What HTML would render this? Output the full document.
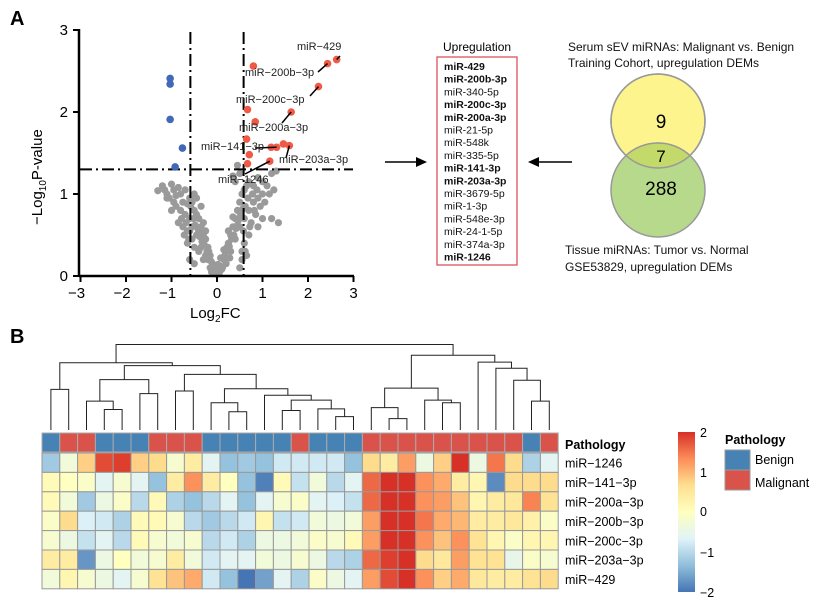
<!DOCTYPE html>
<html><head><meta charset="utf-8">
<style>
body{margin:0;background:#fff;}
svg{display:block;font-family:"Liberation Sans",Arial,sans-serif;}
</style></head>
<body>
<svg id="fig" width="823" height="608" viewBox="0 0 823 608">
<text x="10" y="25" font-size="20" font-weight="bold">A</text>
<text x="10" y="343" font-size="20" font-weight="bold">B</text>
<g id="volcano"></g>
<g id="upbox"></g>
<g id="venn"></g>
<g id="heat"></g>
</svg>
<script>
// ---------- Volcano data ----------
const redX=[0.80,2.43,2.63,2.23,0.67,1.63,0.84,0.65,1.19,1.31,1.46,1.59,0.71,0.67,1.16];
const redY=[2.56,2.59,2.64,2.31,2.03,2.00,1.88,1.67,1.57,1.57,1.61,1.59,1.48,1.37,1.40];
const blueX=[-1.03,-1.03,-1.03,-0.76,-0.92];
const blueY=[2.41,2.34,1.91,1.56,1.33];
const grayX=[-1.3,-1.2,-1.15,-1.1,-1.05,-1.0,-0.95,-0.9,-0.85,-0.8,-0.75,-0.7,-0.65,-0.9,-1.0,-0.6,-0.55,-0.5,-0.45,-0.5,-0.4,-0.35,-0.3,-0.25,-0.2,-0.15,-0.1,-0.05,-0.3,-0.4,-0.6,-0.7,-0.8,-0.55,-0.45,-0.35,-0.25,-0.2,-0.15,-0.6,-0.65,-0.5,-0.4,-0.3,-0.12,-0.75,-0.85,-0.6,-0.5,0,0.05,-0.08,0.1,0.15,0.2,0.25,0.3,0.35,0.4,0.45,0.5,0.55,0.6,0.65,0.7,0.8,0.9,1.0,1.1,1.2,1.3,0.45,0.5,0.2,0.3,0.4,0.5,0.6,0.7,0.8,0.9,1.0,0.75,0.85,0.95,1.05,0.9,1.0,1.2,1.35,0.6,0.7,0.55,0.5,0.35,0.4,1.15,1.25,-0.95,-1.1,0.62,0.58,
-0.58,-0.52,-0.48,-0.42,-0.38,-0.33,-0.28,-0.22,-0.18,-0.13,-0.07,-0.03,0.03,0.07,0.12,0.17,0.22,0.27,0.32,0.37,0.42,0.47,0.52,0.57,-0.62,-0.68,-0.72,-0.78,0.62,0.68,0.72,0.78,0.82,0.88,-0.45,-0.35,0.25,0.35,0.45,-0.55,0.55,-0.65,0.65,-0.25,0.15,-0.02,0.02,0.08,-0.18,0.28];
const grayY=[1.04,1.1,1.05,1.0,0.95,1.12,1.05,0.98,1.08,1.0,0.9,1.05,0.88,0.85,0.8,0.95,0.9,0.8,0.75,1.0,0.7,0.6,0.5,0.45,0.35,0.25,0.15,0.08,0.65,0.55,0.7,0.75,0.8,0.6,0.5,0.35,0.25,0.2,0.1,0.55,0.4,0.35,0.3,0.2,0.05,0.6,0.65,0.2,0.15,0.02,0.04,0.03,0.08,0.2,0.3,0.4,0.5,0.6,0.7,0.8,0.9,1.0,1.05,1.1,1.15,1.1,1.2,1.15,1.1,1.25,1.28,1.35,1.25,0.15,0.3,0.45,0.6,0.7,0.8,0.9,0.95,1.0,0.65,0.75,0.85,0.9,0.6,0.7,0.7,0.65,0.4,0.5,0.2,0.1,1.22,1.15,1.0,1.05,0.9,0.95,0.3,0.55,
0.85,0.7,0.62,0.58,0.48,0.42,0.38,0.3,0.22,0.18,0.1,0.04,0.06,0.12,0.1,0.25,0.35,0.36,0.45,0.5,0.58,0.68,0.75,0.82,0.45,0.65,0.5,0.7,0.85,0.95,0.6,1.0,0.8,1.05,0.95,0.85,0.55,0.72,0.62,0.45,0.3,0.55,0.25,0.55,0.32,0.1,0.14,0.22,0.3,0.22];
const xTicks=[-3,-2,-1,0,1,2,3];
const yTicks=[0,1,2,3];
const labNames=["miR−429","miR−200b−3p","miR−200c−3p","miR−200a−3p","miR−141−3p","miR−203a−3p","miR−1246"];
const labPoint=[2,1,3,5,9,11,14];

// ---------- List / Venn data ----------
const upList=["miR-429","miR-200b-3p","miR-340-5p","miR-200c-3p","miR-200a-3p","miR-21-5p","miR-548k","miR-335-5p","miR-141-3p","miR-203a-3p","miR-3679-5p","miR-1-3p","miR-548e-3p","miR-24-1-5p","miR-374a-3p","miR-1246"];
const upBold=[1,1,0,1,1,0,0,0,1,1,0,0,0,0,0,1];
const vennCounts=["9","7","288"];

// ---------- Heatmap data ----------
const genes=["miR−1246","miR−141−3p","miR−200a−3p","miR−200b−3p","miR−200c−3p","miR−203a−3p","miR−429"];
const pathology="BRRBBBRRRBBBBBRBBBRRRRRRRRRBR".split("");
const heatVals=[
[-1.2,-0.3,0.8,1.8,1.9,0.8,0.7,-0.2,0.4,-0.6,-1.3,-1.2,-1.3,-0.8,-0.8,-0.8,-0.8,-1.3,0.7,0.4,1.2,-0.4,0.8,2.0,-0.4,1.5,0.7,-1.1,-0.6],
[0.1,0.0,-0.1,-0.6,-0.2,-0.6,-1.3,0.4,1.3,0.4,0,-1.3,-1.9,0.1,-0.9,-0.3,-1.0,-0.6,1.6,2.1,2.1,1.3,1.1,0.4,0.2,-1.8,0.7,0.7,0.7],
[0.1,-0.3,-1.2,-0.4,-0.1,-1.0,0.1,-1.1,-1.3,-1.0,-0.6,-1.3,-0.6,-0.2,-0.1,-0.6,-0.7,-0.9,1.6,2.1,2.1,1.3,1.2,0.9,0.2,0.4,0.5,1.4,0.6],
[-0.1,0.7,-0.7,-0.8,-1.1,0.1,0.1,-0.2,-1.0,-1.2,-1.0,-0.8,0.2,-0.9,-0.8,-0.3,-0.4,-0.3,1.2,2.1,2.1,1.5,1.1,1.0,0.4,0.4,0.5,0.3,-0.1],
[-0.2,-0.4,-0.9,-0.6,-1.0,0.1,-0.2,-0.3,-0.2,-1.0,-0.8,-1.1,-0.4,-0.4,-0.3,-0.1,-0.2,0.1,1.2,2.1,2.1,1.3,0.9,1.3,0.6,0.2,-0.1,0.2,0.2],
[0.4,0.4,-1.7,-0.4,0.0,-0.3,-0.2,0.4,-0.3,-0.8,-0.6,-0.6,-0.3,-0.4,-0.2,-0.4,-1.0,-1.1,1.6,1.9,2.1,0.7,0.5,1.2,0.6,0.6,-0.5,-0.1,-0.2],
[-0.3,0.2,-0.2,-0.4,-0.6,-0.2,0.6,0.9,1.1,-0.8,-1.3,-2.0,-1.6,-0.6,-1.1,-0.1,-0.4,-0.6,1.2,1.8,2.1,1.3,0.8,1.1,0.5,0.4,0.4,0.6,0.7]];
// dendrogram merges: leaves 0..28, merge m creates node 29+m
const mergeA=[0,3,2,5,31,7,10,9,13,16,15,37,12,36,34,33,29,19,18,22,21,47,27,26,25,24,50,45];
const mergeB=[1,4,30,6,32,8,11,35,14,17,38,39,40,41,42,43,44,20,46,23,48,49,28,51,52,53,54,55];
const mergeH=[125,63,89,112,155,120,56,84,60,41,65,92,107,127,171,198,207,35,69,84,92,129,89,153,190,209,230,263];
</script>
<script>
const NS="http://www.w3.org/2000/svg";
function mk(tag,attrs,parent,txt){const e=document.createElementNS(NS,tag);for(const k in attrs)e.setAttribute(k,attrs[k]);if(txt!==undefined)e.textContent=txt;parent.appendChild(e);return e;}

// ---- Volcano ----
const V=document.getElementById('volcano');
const sx=v=>217+v*45.5, sy=v=>276-v*82;
for(let i=0;i<grayX.length;i++){const c=mk('circle',{cx:sx(grayX[i]),cy:sy(grayY[i]),r:3.6,fill:'#9a9a9a'},V);

}
[[sx(-0.585),32,sx(-0.585),276],[sx(0.585),32,sx(0.585),276],[80,sy(1.3),353,sy(1.3)]].forEach(l=>{const e=mk('line',{x1:l[0],y1:l[1],x2:l[2],y2:l[3],stroke:'#000','stroke-width':2,'stroke-dasharray':'12,4,2,4'},V);

});
for(let i=0;i<redX.length;i++){const c=mk('circle',{cx:sx(redX[i]),cy:sy(redY[i]),r:3.8,fill:'#ee5a46'},V);

}
for(let i=0;i<blueX.length;i++){const c=mk('circle',{cx:sx(blueX[i]),cy:sy(blueY[i]),r:3.8,fill:'#4169b8'},V);

}
const labPos=[[297,50],[245,76],[236,103],[239,131],[201,150],[279,163],[218,183]];
const leadEnd=[[340,56],[318,72],[310,96],[282,123],[255,148],[286,158],[245,174]];
for(let k=0;k<labNames.length;k++){const p=labPoint[k];
const l=mk('line',{x1:sx(redX[p]),y1:sy(redY[p]),x2:leadEnd[k][0],y2:leadEnd[k][1],stroke:'#000','stroke-width':1.5},V);


const t=mk('text',{x:labPos[k][0],y:labPos[k][1],'font-size':11,fill:'#222'},V,labNames[k]);

}
mk('line',{x1:79,y1:276,x2:354,y2:276,stroke:'#000','stroke-width':2.5},V);
mk('line',{x1:79,y1:29,x2:79,y2:277,stroke:'#000','stroke-width':2.5},V);
xTicks.forEach(v=>{mk('line',{x1:sx(v),y1:276,x2:sx(v),y2:282,stroke:'#000','stroke-width':2},V);
const t=mk('text',{x:sx(v)-(v<0?4:0),y:298,'font-size':15,'text-anchor':'middle'},V,v<0?'−'+(-v):String(v));

});
yTicks.forEach(v=>{mk('line',{x1:73,y1:sy(v),x2:79,y2:sy(v),stroke:'#000','stroke-width':2},V);
const t=mk('text',{x:68,y:sy(v)+5,'font-size':15,'text-anchor':'end'},V,String(v));

});
</script>
<script>
(function(){const V=document.getElementById('volcano');
V.insertAdjacentHTML('beforeend','<text x="190" y="318" font-size="15">Log<tspan font-size="10" dy="4">2</tspan><tspan dy="-4">FC</tspan></text>'+
'<text transform="translate(42,225) rotate(-90)" font-size="15">−Log<tspan font-size="10" dy="4">10</tspan><tspan dy="-4">P-value</tspan></text>'+
'<line x1="385" y1="162" x2="420" y2="162" stroke="#000" stroke-width="1.5"/><polygon points="427,162 416,157 416,167" fill="#000"/>'+
'<line x1="535" y1="162" x2="572" y2="162" stroke="#000" stroke-width="1.5"/><polygon points="528,162 539,157 539,167" fill="#000"/>');
})();
const U=document.getElementById('upbox');
mk('text',{x:443,y:51,'font-size':12},U,'Upregulation');
mk('rect',{x:437,y:57,width:80,height:208,fill:'none',stroke:'#d9535a','stroke-width':1.3},U);
upList.forEach((s,i)=>{const t=mk('text',{x:444,y:70+i*12.7,'font-size':10.5,'font-weight':upBold[i]?'bold':'normal',fill:'#111'},U,s);

});
const G=document.getElementById('venn');
G.insertAdjacentHTML('beforeend','<defs><clipPath id="cy"><circle cx="658" cy="121" r="47"/></clipPath></defs>');
mk('circle',{cx:658,cy:121,r:47,fill:'#fdf48e',stroke:'#999','stroke-width':1.5},G);
mk('circle',{cx:658,cy:190,r:47,fill:'#b7d98c',stroke:'#999','stroke-width':1.5},G);
mk('circle',{cx:658,cy:190,r:47,fill:'#c3d96a','clip-path':'url(#cy)',stroke:'#999','stroke-width':1.5},G);
mk('circle',{cx:658,cy:121,r:47,fill:'none',stroke:'#999','stroke-width':1.5},G);
[[661,128,19],[661,162,17],[661,195,19]].forEach((p,i)=>{const t=mk('text',{x:p[0],y:p[1],'font-size':p[2],'text-anchor':'middle'},G,vennCounts[i]);

});
[['Serum sEV miRNAs: Malignant vs. Benign',568,51],['Training Cohort, upregulation DEMs',568,67],['Tissue miRNAs: Tumor vs. Normal',565,254],['GSE53829, upregulation DEMs',565,271]].forEach(a=>{const t=mk('text',{x:a[1],y:a[2],'font-size':12,fill:'#111'},G,a[0]);

});

const H=document.getElementById('heat');
const cx0=42,cw=17.8,ry0=453,rh=19.4;
const stops=[[-2,[69,117,180]],[-1.333,[145,191,219]],[-0.667,[224,243,248]],[0,[255,255,191]],[0.667,[254,224,144]],[1.333,[252,141,89]],[2,[215,48,39]]];
function col(v){v=Math.max(-2,Math.min(2,v));for(let i=0;i<stops.length-1;i++){if(v<=stops[i+1][0]){const t=(v-stops[i][0])/(stops[i+1][0]-stops[i][0]);const c=stops[i][1].map((a,j)=>Math.round(a+(stops[i+1][1][j]-a)*t));return 'rgb('+c.join(',')+')';}}return 'rgb(215,48,39)';}
pathology.forEach((p,j)=>{const r=mk('rect',{x:cx0+j*cw,y:433,width:cw,height:19,fill:p==='B'?'#4682b4':'#d9534a',stroke:'#aaa','stroke-width':1},H);

});
heatVals.forEach((row,i)=>row.forEach((v,j)=>{const r=mk('rect',{x:cx0+j*cw,y:ry0+i*rh,width:cw,height:rh,fill:col(v),stroke:'#999','stroke-width':1},H);

}));
const ph=mk('text',{x:565,y:449,'font-size':12.5,'font-weight':'bold'},H,'Pathology');

genes.forEach((g,i)=>{const t=mk('text',{x:565,y:ry0+i*rh+rh/2+5,'font-size':12.5},H,g);

});
const nL=29, hs=v=>430-v*0.325;
const nodeX=[],nodeH=[];
for(let j=0;j<nL;j++){nodeX[j]=cx0+cw*(j+0.5);nodeH[j]=0;}
for(let m=0;m<mergeA.length;m++){const a=mergeA[m],b=mergeB[m],id=nL+m,h=mergeH[m];
nodeX[id]=(nodeX[a]+nodeX[b])/2;nodeH[id]=h;
const p=mk('path',{d:`M${nodeX[a]},${hs(nodeH[a])}V${hs(h)}H${nodeX[b]}V${hs(nodeH[b])}`,fill:'none',stroke:'#222','stroke-width':1},H);

}
H.insertAdjacentHTML('beforeend','<defs><linearGradient id="cb" x1="0" y1="1" x2="0" y2="0"><stop offset="0" stop-color="#4575b4"/><stop offset="0.167" stop-color="#91bfdb"/><stop offset="0.333" stop-color="#e0f3f8"/><stop offset="0.5" stop-color="#ffffbf"/><stop offset="0.667" stop-color="#fee090"/><stop offset="0.833" stop-color="#fc8d59"/><stop offset="1" stop-color="#d73027"/></linearGradient></defs><rect x="678" y="432" width="17" height="160" fill="url(#cb)"/>');
[['2',437],['1',477],['0',516],['−1',557],['−2',597]].forEach(a=>{const t=mk('text',{x:700,y:a[1],'font-size':12.5},H,a[0]);

});
mk('text',{x:725,y:444,'font-size':12.5,'font-weight':'bold'},H,'Pathology');
mk('rect',{x:725,y:450,width:25,height:20,fill:'#4682b4',stroke:'#999'},H);
mk('rect',{x:725,y:470,width:25,height:20,fill:'#d9534a',stroke:'#999'},H);
mk('text',{x:755,y:464,'font-size':12.5},H,'Benign');
mk('text',{x:755,y:487,'font-size':12.5},H,'Malignant');
</script>
</body></html>
